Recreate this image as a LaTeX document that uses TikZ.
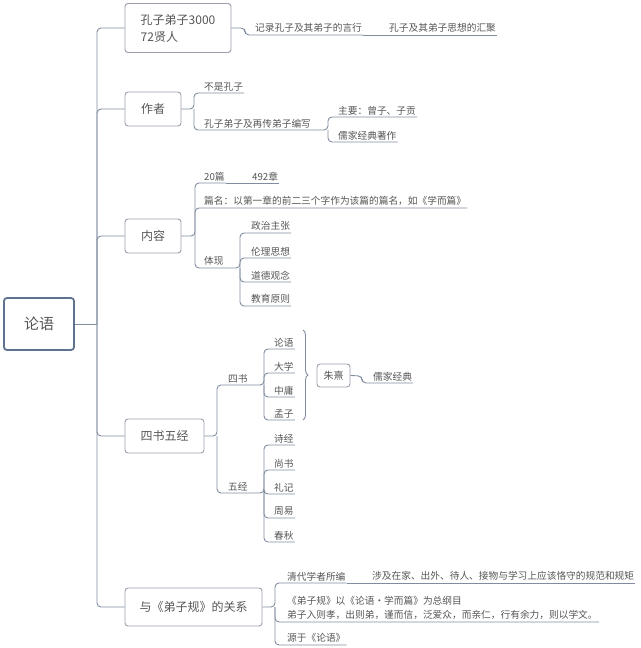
\documentclass[tikz,border=0pt]{standalone}
\usepackage{fontspec}
\setmainfont{Noto Sans CJK SC}
\usepackage{tikz}
\usetikzlibrary{decorations.pathreplacing}
\definecolor{lin}{RGB}{128,140,160}
\definecolor{bxc}{RGB}{155,160,172}
\definecolor{rt}{RGB}{95,115,145}
\definecolor{txt}{RGB}{85,85,85}
\tikzset{
	lf/.style={anchor=south west,inner xsep=1pt,inner ysep=2pt,text=txt,font=\fontsize{9.7}{14}\selectfont},
	bx/.style={draw=bxc,rounded corners=3pt,line width=0.9pt,text=txt,font=\fontsize{12}{17}\selectfont},
	cn/.style={draw=lin,line width=0.9pt,rounded corners=4pt}
}
\begin{document}
\begin{tikzpicture}[x=1pt,y=-1pt]
			\useasboundingbox (0,0) rectangle (640,648);
			\node[bx,draw=rt,line width=1.8pt,minimum width=70pt,minimum height=52pt,font=\fontsize{15}{18}\selectfont] (ly) at (39,324) {论语};
			\coordinate (tr) at (97,324);
			\node[bx,align=left,minimum width=106pt,minimum height=49pt] (dz) at (178,28) {孔子弟子3000\\72贤人};
			\node[bx,minimum width=56pt,minimum height=34pt] (zz) at (153,109) {作者};
			\node[bx,minimum width=56pt,minimum height=34pt] (nr) at (153,236) {内容};
			\node[bx,minimum width=79pt,minimum height=34pt] (sw) at (164.5,436) {四书五经};
			\node[bx,minimum width=137pt,minimum height=38pt] (gx) at (193.5,607) {与《弟子规》的关系};
			\draw[cn] (ly.east) -- (tr);
			\draw[cn] (tr) |- (dz.west);
			\draw[cn] (tr) |- (zz.west);
			\draw[cn] (tr) |- (nr.west);
			\draw[cn] (tr) |- (sw.west);
			\draw[cn] (tr) |- (gx.west);
			\coordinate (f1) at (245,28);
			\node[lf] (jl) at (254,35) {记录孔子及其弟子的言行};
			\node[lf] (hj) at (388,35) {孔子及其弟子思想的汇聚};
			\draw[cn] (dz.east) -- (f1) |- (jl.south east);
			\draw[cn] (jl.south east) -- (hj.south east);
			\coordinate (f2) at (194,109);
			\node[lf] (bs) at (203,93) {不是孔子};
			\node[lf] (bx) at (203,130) {孔子弟子及再传弟子编写};
			\coordinate (f2b) at (328,130);
			\node[lf] (zy) at (337,117) {主要：曾子、子贡};
			\node[lf] (rz) at (337,142) {儒家经典著作};
			\draw[cn] (zz.east) -- (f2) |- (bs.south east);
			\draw[cn] (f2) |- (bx.south east);
			\draw[cn] (bx.south east) -- (f2b) |- (zy.south east);
			\draw[cn] (f2b) |- (rz.south east);
			\coordinate (f3) at (195,236);
			\node[lf] (ps) at (203,183) {20篇};
			\node[lf] (zs) at (251,183) {492章};
			\node[lf] (pm) at (203,208) {篇名：以第一章的前二三个字作为该篇的篇名，如《学而篇》};
			\node[lf] (tx) at (203,268) {体现};
			\coordinate (f3b) at (240,268);
			\node[lf] (zzh) at (250,233) {政治主张};
			\node[lf] (llx) at (250,258) {伦理思想};
			\node[lf] (ddg) at (250,282) {道德观念};
			\node[lf] (jyy) at (250,306) {教育原则};
			\draw[cn] (nr.east) -- (f3) |- (ps.south east);
			\draw[cn] (ps.south east) -- (zs.south east);
			\draw[cn] (f3) |- (pm.south east);
			\draw[cn] (f3) |- (tx.south east);
			\draw[cn] (tx.south east) -- (f3b) |- (zzh.south east);
			\draw[cn] (f3b) |- (llx.south east);
			\draw[cn] (f3b) |- (ddg.south east);
			\draw[cn] (f3b) |- (jyy.south east);
			\coordinate (f4) at (217,436);
			\node[lf] (ssh) at (227,385) {四书};
			\node[lf] (wjj) at (227,493) {五经};
			\coordinate (f4a) at (264,385);
			\coordinate (f4b) at (264,493);
			\node[lf] (lyu) at (273,349) {论语};
			\node[lf] (dxu) at (273,373) {大学};
			\node[lf] (zyo) at (273,397) {中庸};
			\node[lf] (mzi) at (273,420) {孟子};
			\node[lf] (sjj) at (273,445) {诗经};
			\node[lf] (ssu) at (273,470) {尚书};
			\node[lf] (ljj) at (273,494) {礼记};
			\node[lf] (zyi) at (273,518) {周易};
			\node[lf] (cqq) at (273,542) {春秋};
			\draw[cn] (sw.east) -- (f4) |- (ssh.south east);
			\draw[cn] (f4) |- (wjj.south east);
			\draw[cn] (ssh.south east) -- (f4a) |- (lyu.south east);
			\draw[cn] (f4a) |- (dxu.south east);
			\draw[cn] (f4a) |- (zyo.south east);
			\draw[cn] (f4a) |- (mzi.south east);
			\draw[cn] (wjj.south east) -- (f4b) |- (sjj.south east);
			\draw[cn] (f4b) |- (ssu.south east);
			\draw[cn] (f4b) |- (ljj.south east);
			\draw[cn] (f4b) |- (zyi.south east);
			\draw[cn] (f4b) |- (cqq.south east);
			\coordinate (bt) at (303,330);
			\coordinate (bb) at (303,420);
			\draw[lin,line width=0.9pt,decorate,decoration={brace,amplitude=5pt}] (bt) -- (bb);
			\node[bx,minimum width=33pt,minimum height=23pt,font=\fontsize{10}{12}\selectfont] (zx) at (333.5,375.5) {朱熹};
			\coordinate (f4c) at (362,376);
			\node[lf] (rjd) at (372,383) {儒家经典};
			\draw[cn] (zx.east) -- (f4c) |- (rjd.south east);
			\coordinate (f5) at (275,607);
			\node[lf] (qd) at (286,583) {清代学者所编};
			\node[lf] (sj) at (371,583) {涉及在家、出外、待人、接物与学习上应该恪守的规范和规矩};
			\node[lf,align=left] (dzg) at (286,622) {《弟子规》以《论语·学而篇》为总纲目\\弟子入则孝，出则弟，谨而信，泛爱众，而亲仁，行有余力，则以学文。};
			\node[lf] (yy) at (286,645) {源于《论语》};
			\draw[cn] (gx.east) -- (f5) |- (qd.south east);
			\draw[cn] (qd.south east) -- (sj.south east);
			\draw[cn] (f5) |- (dzg.south east);
			\draw[cn] (f5) |- (yy.south east);
		\end{tikzpicture}
\end{document}
